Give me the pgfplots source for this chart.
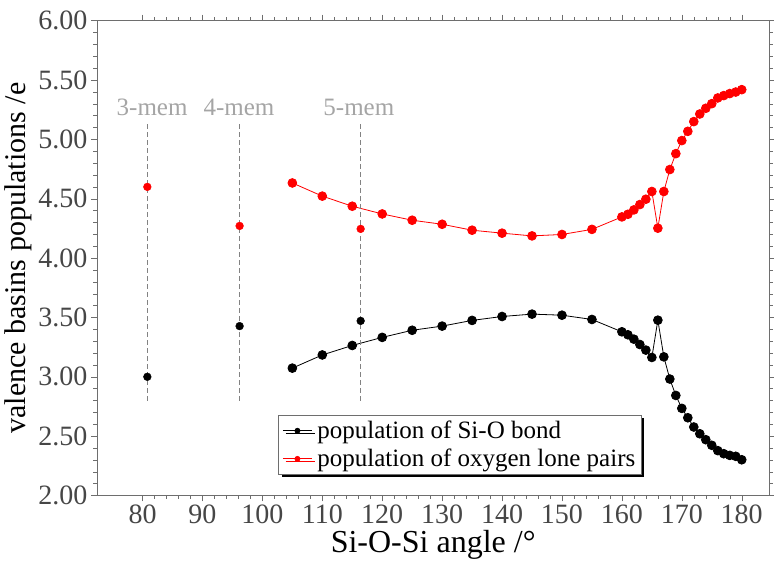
\documentclass[border=0pt]{standalone}
\usepackage{pgfplots}
\pgfplotsset{compat=1.18}
\usepackage{fontspec}
\setmainfont{Liberation Serif}
\usetikzlibrary{shadows}
\definecolor{axgray}{RGB}{110,110,110}
\definecolor{ticklab}{RGB}{70,70,70}
\definecolor{annot}{RGB}{165,165,165}
\definecolor{dashg}{RGB}{130,130,130}
\begin{document}
\begin{tikzpicture}
\begin{axis}[
  scale only axis,
  width=672.3pt, height=474.8pt,
  xmin=72.4, xmax=184.6,
  ymin=2, ymax=6,
  xtick={80,90,...,180},
  ytick={2,2.5,...,6},
  minor x tick num=4,
  minor y tick num=4,
  tick align=outside,
  major tick length=6pt,
  minor tick length=3.5pt,
  axis line style={axgray},
  every tick/.style={axgray},
  tick label style={font=\fontsize{28}{32}\selectfont, text=ticklab},
  /pgf/number format/assume math mode=true,
  yticklabel style={/pgf/number format/fixed, /pgf/number format/fixed zerofill, /pgf/number format/precision=2},
  xticklabel style={/pgf/number format/fixed},
  xlabel={Si-O-Si angle /°},
  ylabel={valence basins populations /e},
  xlabel style={font=\fontsize{32}{36}\selectfont},
  ylabel style={font=\fontsize{30}{34}\selectfont},
  legend style={at={(0.2697,0.1695)}, anchor=north west, draw=axgray, fill=white,
    font=\fontsize{25}{29}\selectfont, row sep=5pt, inner xsep=4pt, inner ysep=4pt,
    nodes={inner xsep=2pt, inner ysep=2pt},
    drop shadow={shadow xshift=3pt, shadow yshift=-3pt, fill=black, opacity=1},
    legend cell align=left},
  legend image code/.code={
    \draw[#1, mark size=2.5pt, mark repeat=2, mark phase=2] plot coordinates {(0pt,0pt) (14.5pt,0pt) (29pt,0pt)};
    \path (32pt,0pt);
  },
]
\coordinate (bl) at (rel axis cs:0,0);
\coordinate (tr) at (rel axis cs:1,1);
\addplot[black, line width=0.8pt, mark=*, mark size=4.4pt, mark options={solid}] coordinates {
(105,3.073)(110,3.184)(115,3.264)(120,3.332)(125,3.392)(130,3.427)(135,3.475)(140,3.508)
(145,3.528)(150,3.519)(155,3.483)(160,3.379)(161,3.354)(162,3.317)(163,3.272)(164,3.225)
(165,3.163)(166,3.477)(167,3.168)(168,2.981)(169,2.843)(170,2.734)(171,2.655)(172,2.577)
(173,2.520)(174,2.470)(175,2.423)(176,2.378)(177,2.352)(178,2.338)(179,2.330)(180,2.301)
};
\addlegendentry{population of Si-O bond}
\addplot[red, line width=0.8pt, mark=*, mark size=4.4pt, mark options={solid}] coordinates {
(105,4.633)(110,4.522)(115,4.437)(120,4.372)(125,4.319)(130,4.285)(135,4.235)(140,4.210)
(145,4.187)(150,4.199)(155,4.242)(160,4.347)(161,4.369)(162,4.406)(163,4.451)(164,4.496)
(165,4.561)(166,4.252)(167,4.561)(168,4.746)(169,4.880)(170,4.990)(171,5.068)(172,5.150)
(173,5.214)(174,5.262)(175,5.301)(176,5.349)(177,5.369)(178,5.386)(179,5.399)(180,5.419)
};
\addlegendentry{population of oxygen lone pairs}
\addplot[only marks, black, mark=*, mark size=3.9pt, forget plot] coordinates {
(80.8,3.000)(96.2,3.427)(116.4,3.471)};
\addplot[only marks, red, mark=*, mark size=3.9pt, forget plot] coordinates {
(80.8,4.600)(96.2,4.271)(116.4,4.246)};
\draw[dashg, line width=1pt, dash pattern=on 5pt off 3pt] (axis cs:80.8,2.80) -- (axis cs:80.8,5.15);
\draw[dashg, line width=1pt, dash pattern=on 5pt off 3pt] (axis cs:96.2,2.80) -- (axis cs:96.2,5.15);
\draw[dashg, line width=1pt, dash pattern=on 5pt off 3pt] (axis cs:116.4,2.80) -- (axis cs:116.4,5.15);
\node[annot, font=\fontsize{25}{28}\selectfont] at (axis cs:81.6,5.27) {3-mem};
\node[annot, font=\fontsize{25}{28}\selectfont] at (axis cs:96.1,5.27) {4-mem};
\node[annot, font=\fontsize{25}{28}\selectfont] at (axis cs:116.1,5.27) {5-mem};
\end{axis}
\pgfresetboundingbox
\path ([shift={(-97pt,-76.5pt)}]bl) rectangle ([shift={(4.7pt,20.7pt)}]tr);
\end{tikzpicture}
\end{document}
